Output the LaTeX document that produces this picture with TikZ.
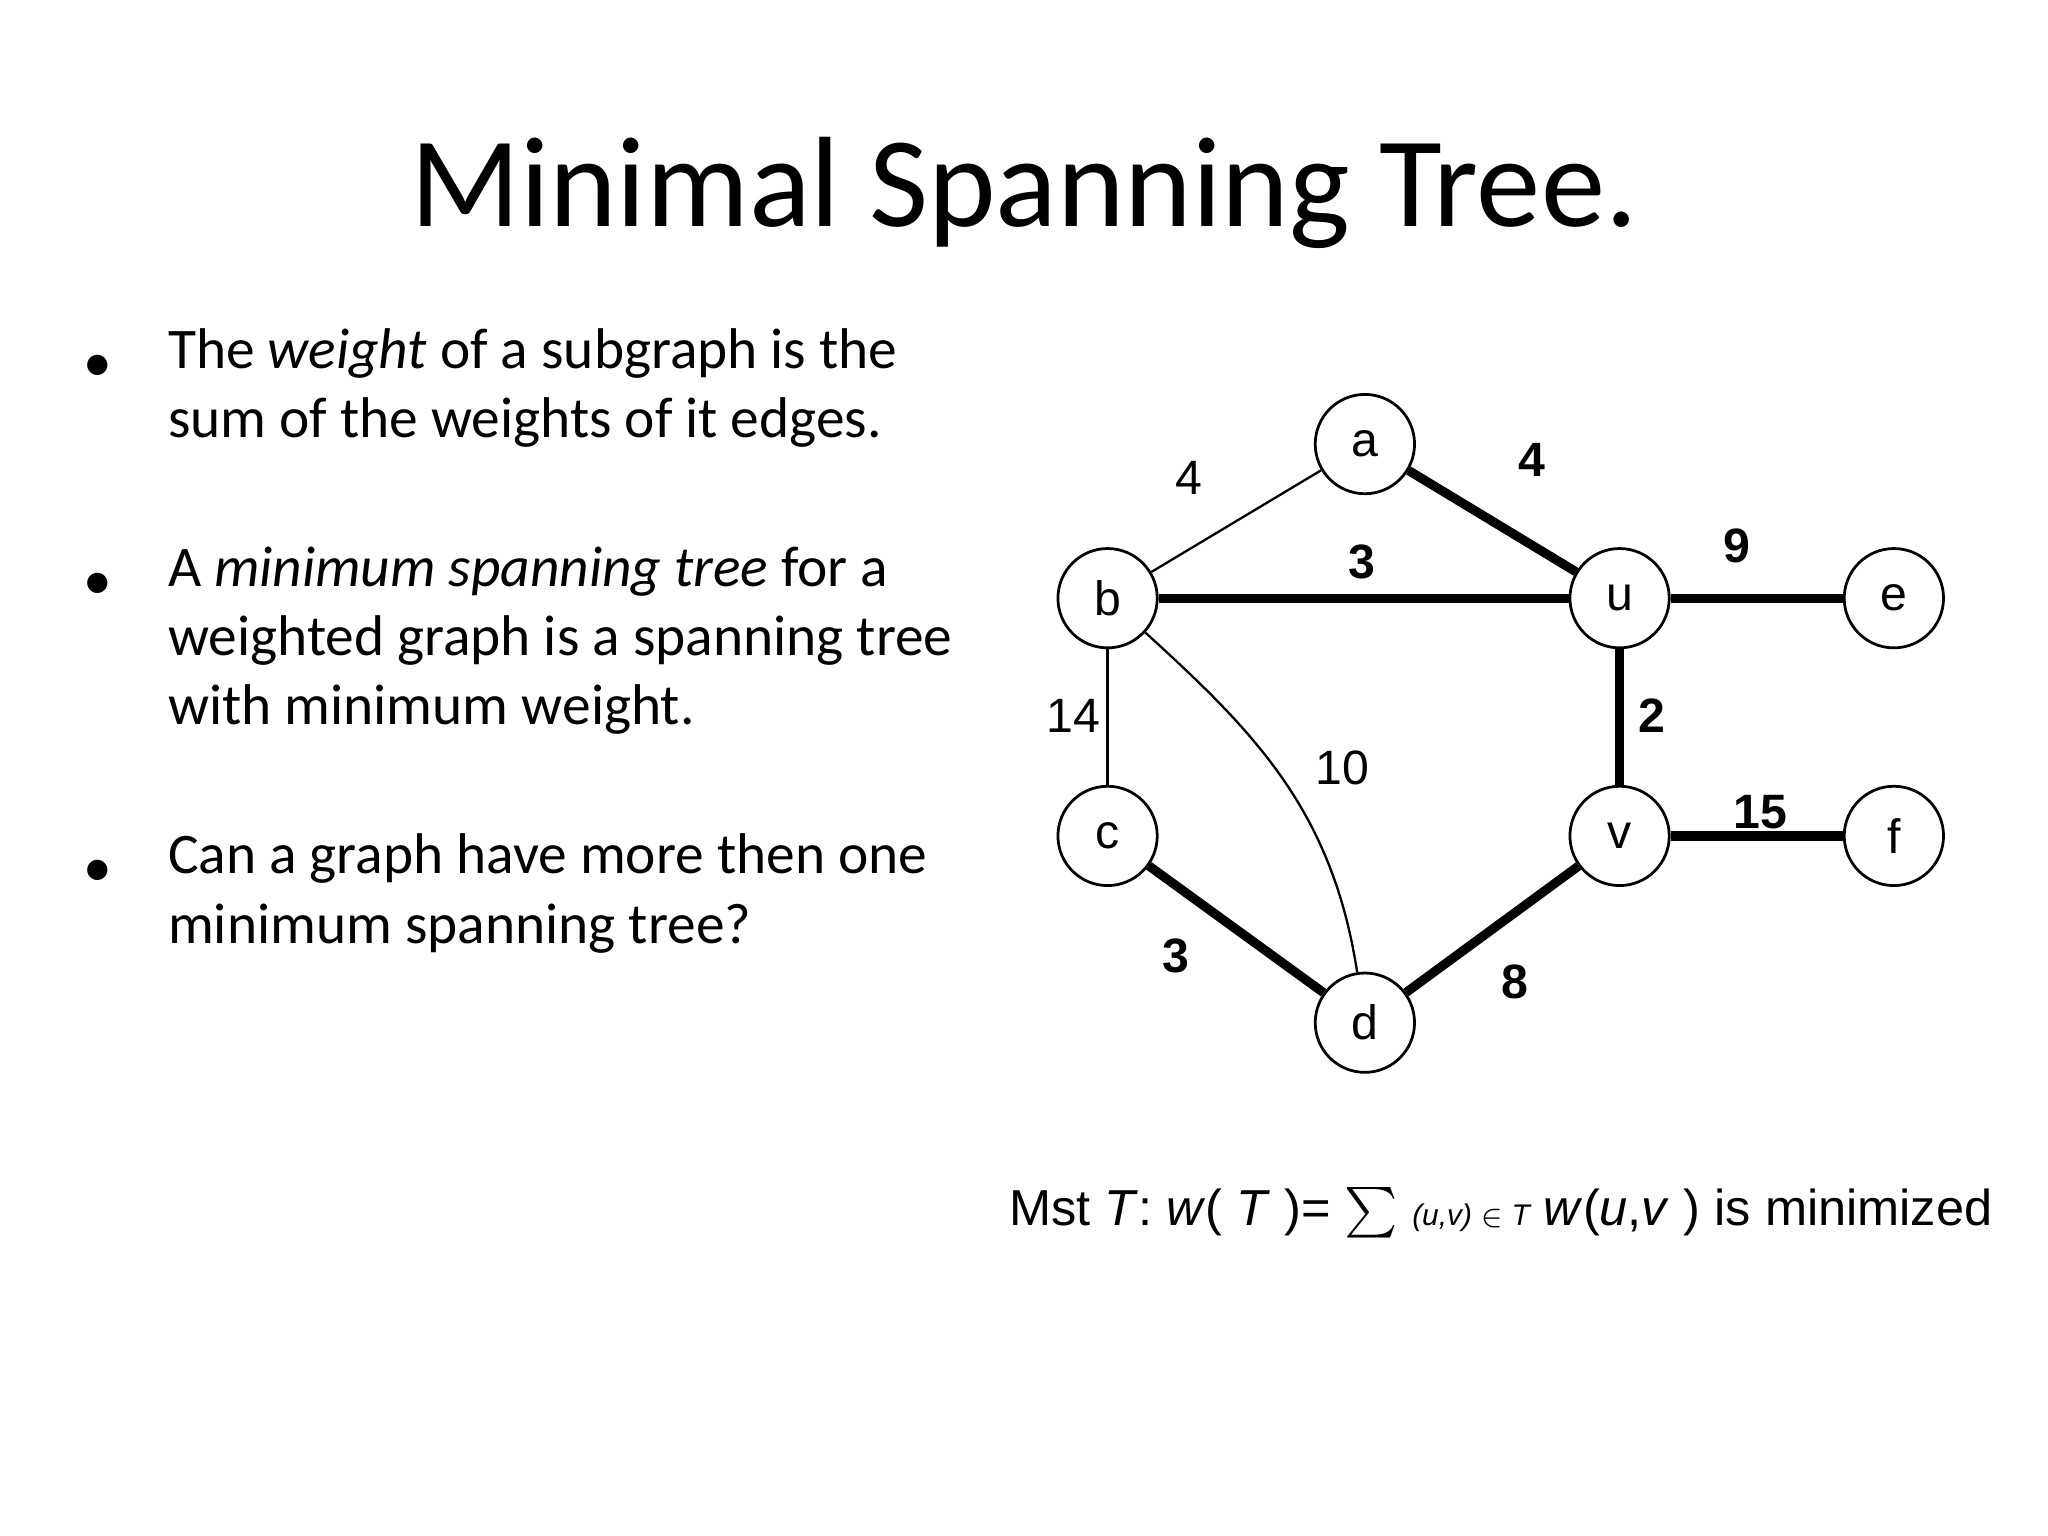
\documentclass[tikz,border=0pt]{standalone}
\usepackage{fontspec}
\setmainfont{Carlito}
\newfontfamily\arialf{Liberation Sans}
\usepackage{amssymb}
\begin{document}
\begin{tikzpicture}[x=0.01cm,y=-0.01cm,
  vtx/.style={draw,circle,minimum size=0.76cm,inner sep=0pt,font=\arialf\fontsize{10.5}{12}\selectfont,line width=0.6pt},
  thick edge/.style={line width=2pt},
  thin edge/.style={line width=0.5pt},
  wl/.style={font=\arialf\fontsize{10.5}{12}\selectfont},
  bw/.style={font=\arialf\bfseries\fontsize{10.5}{12}\selectfont},
  btxt/.style={anchor=base west,font=\fontsize{12.5}{15}\selectfont,inner sep=0pt}]
\useasboundingbox (0,0) rectangle (1568,1176);
\node[font=\fontsize{28}{34}\selectfont] (title) at (784,148) {Minimal Spanning Tree.};
\node (a) [vtx] at (1045,340) {a};
\node (b) [vtx] at (848,458) {b};
\node (u) [vtx] at (1240,458) {u};
\node (e) [vtx] at (1450,458) {e};
\node (c) [vtx] at (848,640) {c};
\node (v) [vtx] at (1240,640) {v};
\node (f) [vtx] at (1450,640) {f};
\node (d) [vtx] at (1045,783) {d};
\draw[thin edge] (a) -- (b);
\draw[thick edge] (a) -- (u);
\draw[thick edge] (b) -- (u);
\draw[thick edge] (u) -- (e);
\draw[thin edge] (b) -- (c);
\draw[thin edge] (b) .. controls (960,560) and (1020,620) .. (d);
\draw[thick edge] (u) -- (v);
\draw[thick edge] (v) -- (f);
\draw[thick edge] (c) -- (d);
\draw[thick edge] (d) -- (v);
\node[wl] (l1) at (910,366) {4};
\node[bw] (l2) at (1173,352) {4};
\node[bw] (l3) at (1043,430) {3};
\node[bw] (l4) at (1330,418) {9};
\node[wl] (l5) at (822,548) {14};
\node[wl] (l6) at (1028,588) {10};
\node[bw] (l7) at (1265,548) {2};
\node[bw] (l8) at (1348,622) {15};
\node[bw] (l9) at (900,732) {3};
\node[bw] (l10) at (1160,752) {8};
\foreach \y in {282,449,669} \node[font=\fontsize{12.5}{15}\selectfont] at (75,\y) {•};
\node[btxt] (t1) at (128,282) {The \textit{weight} of a subgraph is the};
\node[btxt] (t2) at (128,335) {sum of the weights of it edges.};
\node[btxt] (t3) at (128,449) {A \textit{minimum spanning tree} for a};
\node[btxt] (t4) at (128,502) {weighted graph is a spanning tree};
\node[btxt] (t5) at (128,555) {with minimum weight.};
\node[btxt] (t6) at (128,669) {Can a graph have more then one};
\node[btxt] (t7) at (128,722) {minimum spanning tree?};
\node[anchor=base west,inner sep=0pt,font=\arialf\fontsize{11}{13}\selectfont] (m) at (772,938)
 {Mst \textit{T}: \textit{w}( \textit{T} )= $\sum$ {\fontsize{6.5}{8}\selectfont\itshape (u,v) $\in$ T} \textit{w}(\textit{u},\textit{v} ) is minimized};
\end{tikzpicture}
\end{document}
